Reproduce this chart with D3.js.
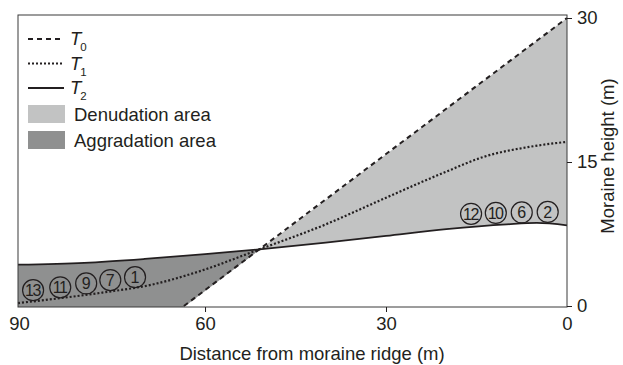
<!DOCTYPE html>
<html>
<head>
<meta charset="utf-8">
<script src="https://cdn.jsdelivr.net/npm/d3@7"></script>
<style>
  body { margin: 0; background: #fff; }
  text { font-family: "Liberation Sans", Arial, sans-serif; fill: #231f20; }
</style>
</head>
<body>
<script>
var width = 623;
var height = 365;

// profiles, distance from ridge (m) -> height (m)
var t0Dist = [63.5, 0];
var t0Height = [0, 30];
var t1Dist = [91, 77, 69, 61, 51, 40, 31, 20, 14, 6, 0];
var t1Height = [0.3, 1.4, 2.2, 3.6, 5.9, 8.5, 11, 14, 15.5, 16.6, 17.1];
var t2Dist = [91, 80, 70, 60, 51, 40, 30, 20, 10, 5, 0];
var t2Height = [4.3, 4.5, 4.9, 5.4, 5.9, 6.6, 7.3, 8.0, 8.5, 8.65, 8.4];

// sample sites
var sampleLabels = ["13", "11", "9", "7", "1", "12", "10", "6", "2"];
var sampleDist = [88.5, 84, 79.7, 75.7, 71.6, 15.9, 11.8, 7.5, 3.2];
var sampleHeight = [1.65, 1.95, 2.35, 2.7, 3.0, 9.6, 9.7, 9.75, 9.8];

var xTicks = [90, 60, 30, 0];
var yTicks = [0, 15, 30];

var legendItems = [
  {type: "line", name: "T", sub: "0", dash: "5,4", w: 2},
  {type: "line", name: "T", sub: "1", dash: "2,2", w: 2.2},
  {type: "line", name: "T", sub: "2", dash: null, w: 1.8},
  {type: "rect", name: "Denudation area", color: "#c2c3c3"},
  {type: "rect", name: "Aggradation area", color: "#8f9090"}
];

var box = {left: 18, right: 567, top: 15, bottom: 307};

var x = d3.scaleLinear().domain([91, 0]).range([box.left, box.right]);
var y = d3.scaleLinear().domain([0, 30]).range([306, 18]);

function pts(ds, hs) {
  return ds.map(function (d, i) { return [d, hs[i]]; });
}
var t0 = pts(t0Dist, t0Height);
var t1 = pts(t1Dist, t1Height);
var t2 = pts(t2Dist, t2Height);

var svg = d3.select("body").append("svg")
    .attr("width", width)
    .attr("height", height);

var defs = svg.append("defs");

function polyPoints(p) {
  return p.map(function (q) { return q.join(","); }).join(" ");
}

// ridge side of T0 (under the T0 line)
defs.append("clipPath").attr("id", "belowT0")
  .append("polygon")
    .attr("points", polyPoints([
      [x(t0[0][0]), box.bottom], [x(t0[1][0]), y(t0[1][1])],
      [box.right, box.bottom]
    ]));

// the other side of T0
defs.append("clipPath").attr("id", "aboveT0")
  .append("polygon")
    .attr("points", polyPoints([
      [box.left, box.top], [x(t0[1][0]), box.top], [x(t0[1][0]), y(t0[1][1])],
      [x(t0[0][0]), box.bottom], [box.left, box.bottom]
    ]));

var curve = d3.curveMonotoneX;

// denudation: between T2 and top, under T0
svg.append("path")
    .datum(t2)
    .attr("clip-path", "url(#belowT0)")
    .attr("fill", "#c2c3c3")
    .attr("d", d3.area()
        .curve(curve)
        .x(function (d) { return x(d[0]); })
        .y0(function (d) { return y(d[1]); })
        .y1(box.top));

// aggradation: between T2 and bottom, above T0
svg.append("path")
    .datum(t2)
    .attr("clip-path", "url(#aboveT0)")
    .attr("fill", "#8f9090")
    .attr("d", d3.area()
        .curve(curve)
        .x(function (d) { return x(d[0]); })
        .y0(function (d) { return y(d[1]); })
        .y1(box.bottom));

var line = d3.line()
    .curve(curve)
    .x(function (d) { return x(d[0]); })
    .y(function (d) { return y(d[1]); });

svg.append("path").datum(t0)
    .attr("fill", "none").attr("stroke", "#231f20")
    .attr("stroke-width", 2).attr("stroke-dasharray", "5,4")
    .attr("d", d3.line().x(function (d) { return x(d[0]); }).y(function (d) { return y(d[1]); }));

svg.append("path").datum(t1)
    .attr("fill", "none").attr("stroke", "#231f20")
    .attr("stroke-width", 2.2).attr("stroke-dasharray", "2,2")
    .attr("d", line);

svg.append("path").datum(t2)
    .attr("fill", "none").attr("stroke", "#231f20")
    .attr("stroke-width", 1.8)
    .attr("d", line);

// frame
svg.append("rect")
    .attr("x", box.left).attr("y", box.top)
    .attr("width", box.right - box.left).attr("height", box.bottom - box.top)
    .attr("fill", "none").attr("stroke", "#3a3a3a").attr("stroke-width", 1);

// right axis
var yAxis = svg.append("g")
    .attr("transform", "translate(" + box.right + ",0)")
    .call(d3.axisRight(y).tickValues(yTicks).tickSize(5).tickPadding(5));
yAxis.select(".domain").remove();
yAxis.selectAll("text").style("font-size", "18.5px").attr("font-family", null);
yAxis.selectAll("line").attr("stroke", "#231f20");

// bottom axis
var xAxis = svg.append("g")
    .attr("transform", "translate(0," + box.bottom + ")")
    .call(d3.axisBottom(x).tickValues(xTicks).tickSize(5).tickPadding(5));
xAxis.select(".domain").remove();
xAxis.selectAll(".tick line").attr("stroke", "#231f20")
    .attr("display", function (d) { return (d === 90 || d === 0) ? "none" : null; });
xAxis.selectAll("text").style("font-size", "18.5px").attr("font-family", null)
    .attr("dx", function (d) { return d === 90 ? "-5" : null; });

svg.append("text")
    .attr("x", 312).attr("y", 360)
    .attr("text-anchor", "middle")
    .style("font-size", "18.5px")
    .text("Distance from moraine ridge (m)");

svg.append("text")
    .attr("transform", "translate(614,156) rotate(-90)")
    .attr("text-anchor", "middle")
    .style("font-size", "18.5px")
    .text("Moraine height (m)");

// sample markers
var samples = svg.selectAll(".sample")
    .data(sampleLabels.map(function (l, i) { return {label: l, d: sampleDist[i], h: sampleHeight[i]}; }))
  .enter().append("g")
    .attr("class", "sample")
    .attr("transform", function (d) { return "translate(" + x(d.d) + "," + y(d.h) + ")"; });
samples.append("circle")
    .attr("r", 10.5)
    .attr("fill", "none")
    .attr("stroke", "#231f20")
    .attr("stroke-width", 1.2);
samples.append("text")
    .attr("text-anchor", "middle")
    .attr("dy", "0.36em")
    .style("font-size", "16px")
    .style("letter-spacing", function (d) { return d.label.length > 1 ? "-1.5px" : null; })
    .attr("dx", function (d) { return d.label.length > 1 ? "-0.7" : null; })
    .text(function (d) { return d.label; });

// legend
var legend = svg.selectAll(".legend")
    .data(legendItems)
  .enter().append("g")
    .attr("class", "legend")
    .attr("transform", function (d, i) {
      var yy = i < 3 ? 39 + i * 24.5 : 114 + (i - 3) * 26;
      return "translate(28," + yy + ")";
    });

legend.filter(function (d) { return d.type === "line"; })
  .append("line")
    .attr("x1", 0).attr("x2", 36)
    .attr("stroke", "#231f20")
    .attr("stroke-width", function (d) { return d.w; })
    .attr("stroke-dasharray", function (d) { return d.dash; });

var lt = legend.filter(function (d) { return d.type === "line"; })
  .append("text")
    .attr("x", 42).attr("y", 6)
    .style("font-size", "18.5px");
lt.append("tspan").style("font-style", "italic").text(function (d) { return d.name; });
lt.append("tspan").attr("dy", 6).attr("dx", -1).style("font-size", "11.5px").text(function (d) { return d.sub; });

legend.filter(function (d) { return d.type === "rect"; })
  .append("rect")
    .attr("x", 0).attr("y", -9)
    .attr("width", 37).attr("height", 18)
    .attr("fill", function (d) { return d.color; });

legend.filter(function (d) { return d.type === "rect"; })
  .append("text")
    .attr("x", 46).attr("y", 6.5)
    .style("font-size", "18.5px")
    .text(function (d) { return d.name; });
</script>
</body>
</html>
